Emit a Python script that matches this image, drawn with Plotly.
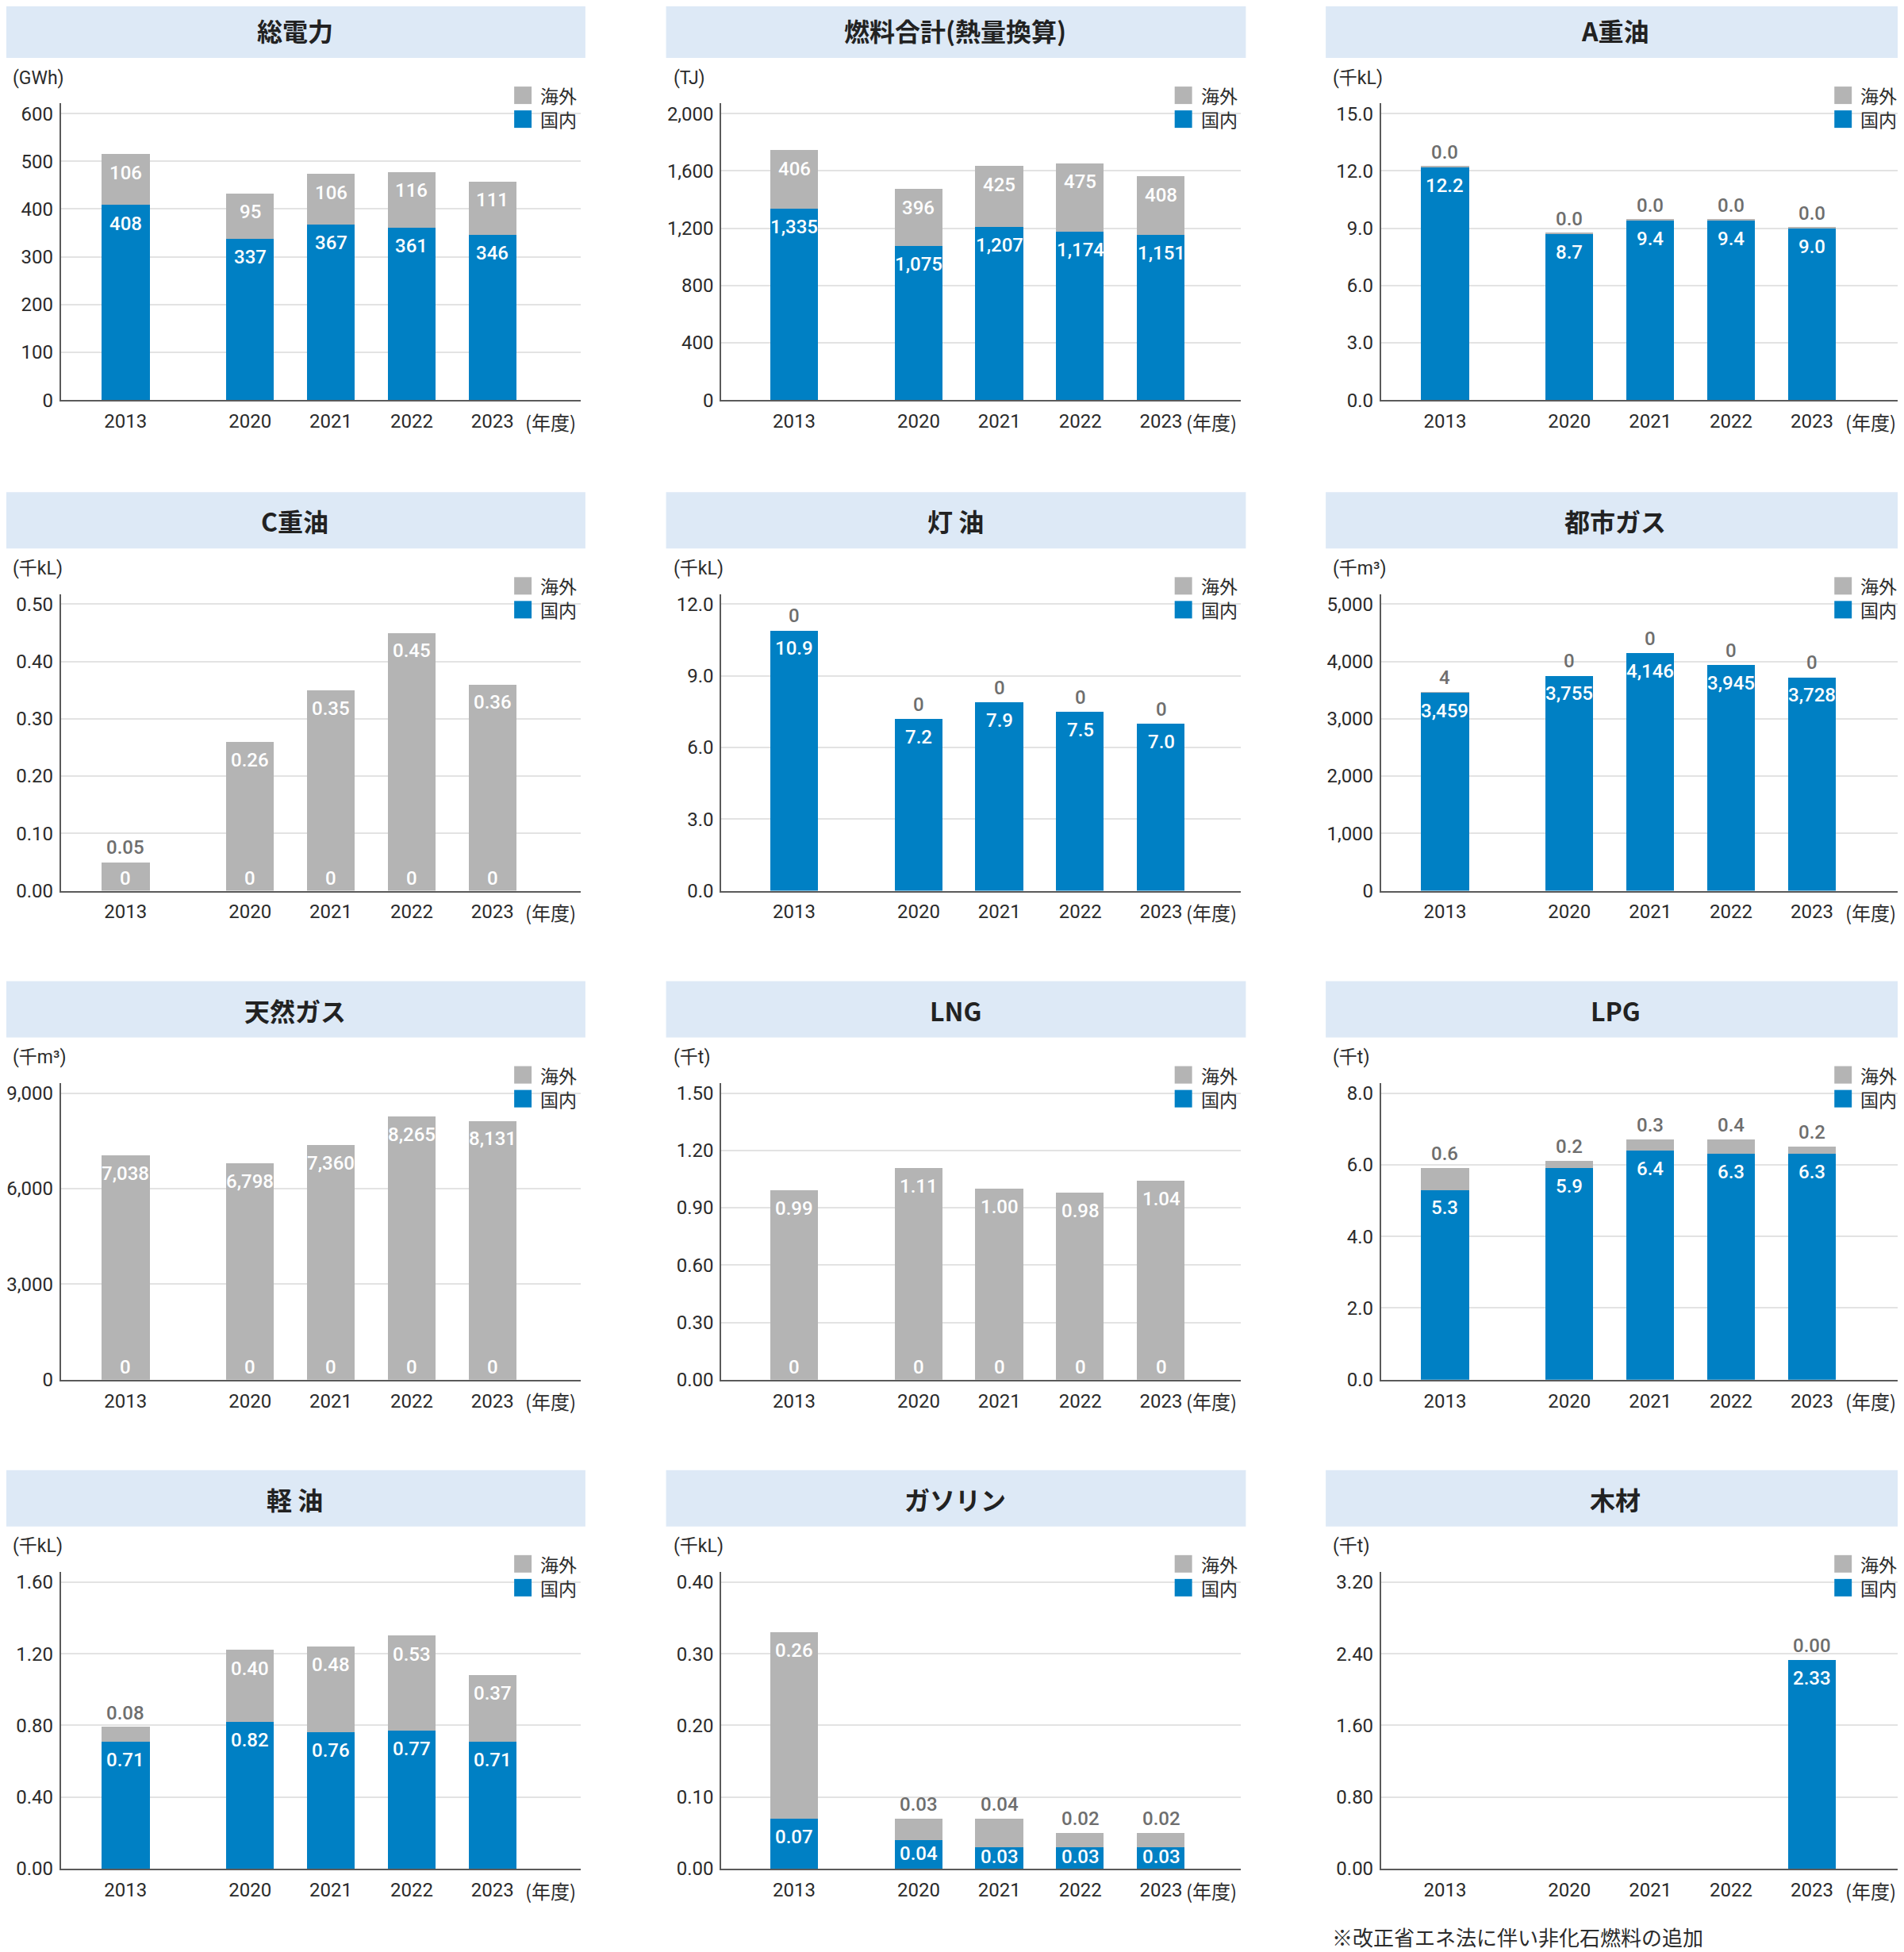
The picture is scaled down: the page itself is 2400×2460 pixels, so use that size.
import plotly.graph_objects as go

# ---------------- data ----------------
YEARS = ["2013", "2020", "2021", "2022", "2023"]
SERIES_NAMES = ["海外", "国内"]

DENRYOKU_KOKUNAI = [408, 337, 367, 361, 346]
DENRYOKU_KAIGAI = [106, 95, 106, 116, 111]

NENRYO_KOKUNAI = [1335, 1075, 1207, 1174, 1151]
NENRYO_KAIGAI = [406, 396, 425, 475, 408]

A_JUYU_KOKUNAI = [12.2, 8.7, 9.4, 9.4, 9.0]
A_JUYU_KAIGAI = [0.04, 0.04, 0.04, 0.04, 0.04]

C_JUYU_KOKUNAI = [0, 0, 0, 0, 0]
C_JUYU_KAIGAI = [0.05, 0.26, 0.35, 0.45, 0.36]

TOYU_KOKUNAI = [10.9, 7.2, 7.9, 7.5, 7.0]
TOYU_KAIGAI = [0, 0, 0, 0, 0]

TOSHIGAS_KOKUNAI = [3459, 3755, 4146, 3945, 3728]
TOSHIGAS_KAIGAI = [4, 0, 0, 0, 0]

TENNENGAS_KOKUNAI = [0, 0, 0, 0, 0]
TENNENGAS_KAIGAI = [7038, 6798, 7360, 8265, 8131]

LNG_KOKUNAI = [0, 0, 0, 0, 0]
LNG_KAIGAI = [0.99, 1.11, 1.00, 0.98, 1.04]

LPG_KOKUNAI = [5.3, 5.9, 6.4, 6.3, 6.3]
LPG_KAIGAI = [0.6, 0.2, 0.3, 0.4, 0.2]

KEIYU_KOKUNAI = [0.71, 0.82, 0.76, 0.77, 0.71]
KEIYU_KAIGAI = [0.08, 0.40, 0.48, 0.53, 0.37]

GASOLINE_KOKUNAI = [0.07, 0.04, 0.03, 0.03, 0.03]
GASOLINE_KAIGAI = [0.26, 0.03, 0.04, 0.02, 0.02]

MOKUZAI_KOKUNAI = [None, None, None, None, 2.33]
MOKUZAI_KAIGAI = [None, None, None, None, 0.0]

TITLES = ["総電力", "燃料合計(熱量換算)", "A重油", "C重油", "灯 油", "都市ガス",
          "天然ガス", "LNG", "LPG", "軽 油", "ガソリン", "木材"]
UNITS = ["(GWh)", "(TJ)", "(千kL)", "(千kL)", "(千kL)", "(千m³)",
         "(千m³)", "(千t)", "(千t)", "(千kL)", "(千kL)", "(千t)"]
Y_MAX = [600, 2000, 15, 0.5, 12, 5000, 9000, 1.5, 8, 1.6, 0.4, 3.2]
Y_STEP = [100, 400, 3, 0.1, 3, 1000, 3000, 0.3, 2, 0.4, 0.1, 0.8]
TICK_FMT = ["d", ",d", ".1f", ".2f", ".1f", ",d", ",d", ".2f", ".1f", ".2f", ".2f", ".2f"]
LABEL_FMT = ["d", ",d", ".1f", ".2f", ".1f", ",d", ",d", ".2f", ".1f", ".2f", ".2f", ".2f"]
ZERO_AS_INT = [True, True, False, True, True, True, True, True, True, True, True, False]
FOOTNOTE = "※改正省エネ法に伴い非化石燃料の追加"

KOKUNAI = [DENRYOKU_KOKUNAI, NENRYO_KOKUNAI, A_JUYU_KOKUNAI, C_JUYU_KOKUNAI,
           TOYU_KOKUNAI, TOSHIGAS_KOKUNAI, TENNENGAS_KOKUNAI, LNG_KOKUNAI,
           LPG_KOKUNAI, KEIYU_KOKUNAI, GASOLINE_KOKUNAI, MOKUZAI_KOKUNAI]
KAIGAI = [DENRYOKU_KAIGAI, NENRYO_KAIGAI, A_JUYU_KAIGAI, C_JUYU_KAIGAI,
          TOYU_KAIGAI, TOSHIGAS_KAIGAI, TENNENGAS_KAIGAI, LNG_KAIGAI,
          LPG_KAIGAI, KEIYU_KAIGAI, GASOLINE_KAIGAI, MOKUZAI_KAIGAI]

# ---------------- style / layout ----------------
PAGE_W = 2400
BODY_MARGIN = 8
W, H = PAGE_W - 2 * BODY_MARGIN, 2460
Y_SCALE = 0.9935          # vertical compression observed in the photograph
BLUE = "#0080c4"
GRAY = "#b4b4b4"
LABEL_GRAY = "#6e6e6e"
TEXT = "#2b2b2b"
TITLE_BG = "#dde9f6"
NUM_FONT = "Roboto, Noto Sans CJK JP, sans-serif"
JP_FONT = "Noto Sans CJK JP, sans-serif"

COL_X = [0, 835, 1669]
ROW_Y = [1, 619, 1235, 1851]
X_POS = [0, 1.54, 2.54, 3.54, 4.54]
X_START = [-0.80, -0.90, -0.79]
X_SPAN = 6.43
BAR_W = 0.59
PLOT_L, PLOT_R = 70, 727
ZERO_Y, TOP_GRID_Y = 502, 141
PAD = 1.035


def clamp(v):
    return max(0.0, min(1.0, v))


def fx(px):
    return (px - BODY_MARGIN) / W


def fy(py):
    return 1 - (py / Y_SCALE - BODY_MARGIN) / H


def fmt(v, f, zero_int):
    if v == 0 and zero_int:
        return "0"
    return format(v, f)


fig = go.Figure()
shapes, annotations = [], []
layout_axes = {}

plot_h = (ZERO_Y - TOP_GRID_Y) * PAD
LBL = 24

for i in range(12):
    r, c = divmod(i, 3)
    X0, Y0 = COL_X[c], ROW_Y[r]
    ax = "" if i == 0 else str(i + 1)
    xa, ya = "x" + ax, "y" + ax
    ymax = Y_MAX[i] * PAD

    dom = KOKUNAI[i]
    ovs = KAIGAI[i]

    fig.add_trace(go.Bar(x=X_POS, y=dom, name=SERIES_NAMES[1], marker=dict(color=BLUE, line=dict(width=0)),
                         width=BAR_W, xaxis=xa, yaxis=ya, showlegend=False, hoverinfo="skip"))
    fig.add_trace(go.Bar(x=X_POS, y=ovs, name=SERIES_NAMES[0], marker=dict(color=GRAY, line=dict(width=0)),
                         width=BAR_W, xaxis=xa, yaxis=ya, showlegend=False, hoverinfo="skip"))

    white = dict(family=NUM_FONT, size=LBL, color="white", weight=500)
    grayf = dict(family=NUM_FONT, size=LBL, color=LABEL_GRAY, weight=500)
    for j, xp in enumerate(X_POS):
        d, o = dom[j], ovs[j]
        if d is None:
            continue
        seg_px = d / ymax * plot_h
        txt = fmt(d, LABEL_FMT[i], ZERO_AS_INT[i])
        if d == 0:
            annotations.append(dict(x=xp, y=0, xref=xa, yref=ya, text=txt, showarrow=False,
                                    yanchor="bottom", yshift=1, borderpad=0, font=white))
        elif seg_px < 42:
            annotations.append(dict(x=xp, y=d / 2, xref=xa, yref=ya, text=txt, showarrow=False,
                                    yanchor="middle", yshift=1, borderpad=0, font=white))
        else:
            annotations.append(dict(x=xp, y=d, xref=xa, yref=ya, text=txt, showarrow=False,
                                    yanchor="top", yshift=-8, borderpad=0, font=white))
        total = d + o
        otxt = fmt(o, LABEL_FMT[i], ZERO_AS_INT[i])
        if o / Y_MAX[i] >= 0.12:
            annotations.append(dict(x=xp, y=total, xref=xa, yref=ya, text=otxt, showarrow=False,
                                    yanchor="top", yshift=-8, borderpad=0, font=white))
        else:
            annotations.append(dict(x=xp, y=total, xref=xa, yref=ya, text=otxt, showarrow=False,
                                    yanchor="bottom", yshift=3, borderpad=0, font=grayf))

    ticks = []
    k = 0
    while k * Y_STEP[i] <= Y_MAX[i] + 1e-9:
        ticks.append(round(k * Y_STEP[i], 6))
        k += 1
    dl, dr = clamp(fx(X0 + PLOT_L)), clamp(fx(X0 + PLOT_R))
    layout_axes["xaxis" + ax] = dict(
        domain=[dl, dr], anchor=ya,
        range=[X_START[c], X_START[c] + X_SPAN * (dr - dl) / ((PLOT_R - PLOT_L) / W)],
        tickvals=X_POS, ticktext=YEARS,
        showgrid=False, zeroline=False, showline=True, linecolor="#5a5a5a", linewidth=2,
        ticks="", ticklabelstandoff=4,
        tickfont=dict(family=NUM_FONT, size=24, color=TEXT), fixedrange=True)
    layout_axes["yaxis" + ax] = dict(
        domain=[clamp(fy(Y0 + ZERO_Y)), clamp(fy(Y0 + ZERO_Y - plot_h))], anchor=xa,
        range=[0, ymax], tickvals=ticks, tickformat=TICK_FMT[i],
        showgrid=True, gridcolor="#e3e3e3", gridwidth=2, zeroline=False,
        showline=True, linecolor="#5a5a5a", linewidth=2, ticks="", ticklabelstandoff=3,
        tickfont=dict(family=NUM_FONT, size=24, color=TEXT), fixedrange=True)

    # title bar
    x1 = X0 + 733 if c < 2 else PAGE_W
    shapes.append(dict(type="rect", xref="paper", yref="paper", x0=fx(X0), x1=fx(x1),
                       y0=fy(Y0 + 71), y1=fy(Y0), fillcolor=TITLE_BG, line=dict(width=0), layer="below"))
    annotations.append(dict(x=fx(X0 + 366), y=fy(Y0 + 36), xref="paper", yref="paper",
                            text="<b>" + TITLES[i] + "</b>", showarrow=False, xanchor="center", yanchor="middle",
                            font=dict(family=JP_FONT, size=32, color="#222222")))
    # unit
    annotations.append(dict(x=fx(X0 + 8), y=fy(Y0 + 96), xref="paper", yref="paper",
                            text=UNITS[i], showarrow=False, xanchor="left", yanchor="middle", borderpad=0,
                            font=dict(family=NUM_FONT, size=23, color=TEXT)))
    # year suffix
    annotations.append(dict(x=fx(X0 + 689), y=fy(Y0 + 529), xref="paper", yref="paper",
                            text="(年度)", showarrow=False, xanchor="center", yanchor="middle", borderpad=0,
                            font=dict(family=JP_FONT, size=24, color=TEXT)))
    # legend
    for k2, (nm, colr) in enumerate(zip(SERIES_NAMES, [GRAY, BLUE])):
        yc = Y0 + 118 + 30 * k2
        shapes.append(dict(type="rect", xref="paper", yref="paper", x0=fx(X0 + 643), x1=fx(X0 + 665),
                           y0=fy(yc + 11), y1=fy(yc - 11), fillcolor=colr, line=dict(width=0)))
        annotations.append(dict(x=fx(X0 + 675), y=fy(yc), xref="paper", yref="paper", text=nm,
                                showarrow=False, xanchor="left", yanchor="middle", borderpad=0,
                                font=dict(family=JP_FONT, size=23, color=TEXT)))

annotations.append(dict(x=fx(1676), y=fy(2438), xref="paper", yref="paper", text=FOOTNOTE,
                        showarrow=False, xanchor="left", yanchor="middle", borderpad=0,
                        font=dict(family=JP_FONT, size=26, color=TEXT)))

fig.update_layout(width=W, height=H, margin=dict(l=0, r=0, t=0, b=0),
                  paper_bgcolor="white", plot_bgcolor="white", barmode="stack",
                  bargap=0, shapes=shapes, annotations=annotations, showlegend=False,
                  **layout_axes)

fig.write_html("out.html")
